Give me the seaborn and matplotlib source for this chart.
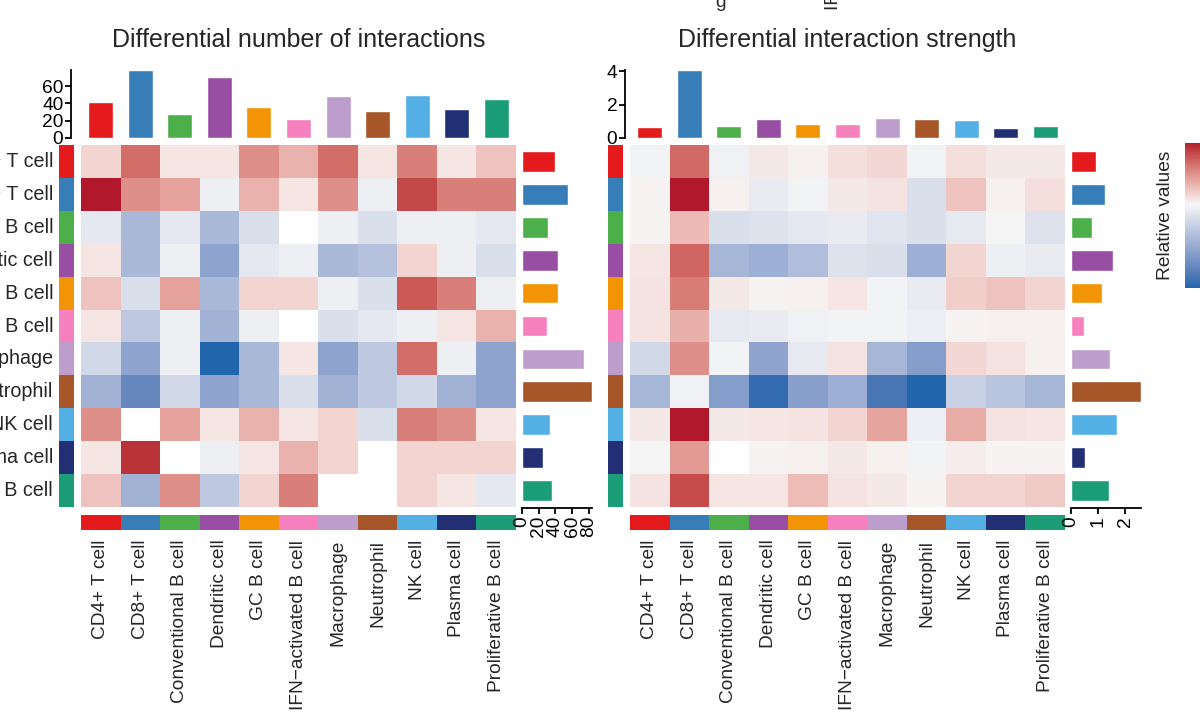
import numpy as np
import pandas as pd
import matplotlib
matplotlib.use("Agg")
import matplotlib.pyplot as plt
import matplotlib.colors as mcolors
import seaborn as sns

sns.set_style("white")
plt.rcParams["font.family"] = ["Liberation Sans", "DejaVu Sans"]

# ---------------------------------------------------------------- data
cell_types = ["CD4+ T cell", "CD8+ T cell", "Conventional B cell", "Dendritic cell",
              "GC B cell", "IFN\u2212activated B cell", "Macrophage", "Neutrophil",
              "NK cell", "Plasma cell", "Proliferative B cell"]
group_colors = ["#E41A1C", "#377EB8", "#4DAF4A", "#984EA3", "#F29403", "#F781BF",
                "#BC9DCC", "#A65628", "#54B0E4", "#222F75", "#1B9E77"]

# differential number of interactions (rows = senders, cols = receivers)
count_diff = [
    [2, 8, 1, 1, 6, 4, 8, 1, 7, 1, 3],
    [12, 6, 5, -1, 4, 1, 6, -1, 10, 7, 7],
    [-2, -8, -2, -8, -3, 0, -1, -3, -1, -1, -2],
    [1, -8, -1, -11, -2, -1, -8, -7, 2, -1, -3],
    [3, -3, 5, -8, 2, 2, -1, -3, 9, 7, -1],
    [1, -6, -1, -9, -1, 0, -3, -2, -1, 1, 4],
    [-4, -11, -1, -20, -8, 1, -11, -6, 8, -1, -11],
    [-9, -15, -4, -11, -8, -3, -9, -6, -4, -9, -11],
    [6, 0, 5, 1, 4, 1, 2, -3, 7, 6, 1],
    [1, 11, 0, -1, 1, 4, 2, 0, 2, 2, 2],
    [3, -9, 6, -6, 2, 7, 0, 0, 2, 1, -2],
]
count_incoming = [41.6, 78.6, 28, 71, 36, 22, 48, 31, 50, 34, 45]
count_outgoing = [39, 55, 31, 43, 43, 30, 74, 84, 33, 25, 36]
count_ticks = [0, 20, 40, 60]
count_out_ticks = [0, 20, 40, 60, 80]

# differential interaction strength
weight_diff = [
    [-0.02, 0.41, -0.03, 0.04, 0.02, 0.07, 0.09, -0.02, 0.07, 0.04, 0.04],
    [0.01, 0.60, 0.02, -0.06, -0.02, 0.04, 0.06, -0.12, 0.15, 0.02, 0.07],
    [0.01, 0.18, -0.12, -0.11, -0.08, -0.06, -0.10, -0.12, -0.07, -0.01, -0.11],
    [0.05, 0.42, -0.34, -0.38, -0.30, -0.11, -0.12, -0.38, 0.10, -0.04, -0.06],
    [0.06, 0.36, 0.04, 0.01, 0.02, 0.05, -0.02, -0.06, 0.12, 0.15, 0.10],
    [0.06, 0.21, -0.07, -0.06, -0.03, -0.02, -0.02, -0.05, 0.01, 0.02, 0.02],
    [-0.16, 0.30, -0.02, -0.44, -0.07, 0.06, -0.34, -0.48, 0.09, 0.06, 0.02],
    [-0.34, -0.03, -0.48, -0.76, -0.46, -0.38, -0.70, -0.80, -0.20, -0.26, -0.34],
    [0.04, 0.60, 0.04, 0.05, 0.06, 0.10, 0.24, -0.05, 0.22, 0.06, 0.05],
    [-0.01, 0.27, 0.0, 0.01, 0.02, 0.04, 0.02, -0.02, 0.03, 0.01, 0.01],
    [0.06, 0.49, 0.05, 0.05, 0.17, 0.06, 0.04, 0.01, 0.10, 0.10, 0.13],
]
weight_incoming = [0.65, 4.08, 0.71, 1.15, 0.83, 0.83, 1.21, 1.17, 1.11, 0.63, 0.75]
weight_outgoing = [0.91, 1.24, 0.76, 1.57, 1.14, 0.49, 1.45, 2.59, 1.71, 0.52, 1.42]
weight_ticks = [0, 2, 4]
weight_out_ticks = [0, 1, 2]

titles = ["Differential number of interactions", "Differential interaction strength"]
legend_title = "Relative values"

# ---------------------------------------------------------------- colour ramp (CIELAB interpolation)
_M = np.array([[0.4124, 0.3576, 0.1805], [0.2126, 0.7152, 0.0722], [0.0193, 0.1192, 0.9505]])
_WHITE = np.array([0.95047, 1.0, 1.08883])


def to_lab(col):
    c = np.array(mcolors.to_rgb(col))
    lin = np.where(c <= 0.04045, c / 12.92, ((c + 0.055) / 1.055) ** 2.4)
    t = (_M @ lin) / _WHITE
    f = np.where(t > (6 / 29) ** 3, np.cbrt(t), t / (3 * (6 / 29) ** 2) + 4 / 29)
    return np.array([116 * f[1] - 16, 500 * (f[0] - f[1]), 200 * (f[1] - f[2])])


def from_lab(lab):
    fy = (lab[0] + 16) / 116
    f = np.array([fy + lab[1] / 500, fy, fy - lab[2] / 200])
    t = np.where(f > 6 / 29, f ** 3, 3 * (6 / 29) ** 2 * (f - 4 / 29))
    lin = np.clip(np.linalg.solve(_M, t * _WHITE), 0, 1)
    c = np.where(lin <= 0.0031308, 12.92 * lin, 1.055 * lin ** (1 / 2.4) - 0.055)
    return np.clip(c, 0, 1)


def lab_ramp(c1, c2, n=128):
    a, b = to_lab(c1), to_lab(c2)
    return [from_lab(a + (b - a) * s) for s in np.linspace(0, 1, n)]


diff_cmap = mcolors.LinearSegmentedColormap.from_list(
    "diff", lab_ramp("#2166ac", "#f7f7f7") + lab_ramp("#f7f7f7", "#b2182b")[1:])

# ---------------------------------------------------------------- layout helpers
W, H = 1200, 715
fig = plt.figure(figsize=(W / 100, H / 100), dpi=100)
FS = 13.8
ROW_FS = 14.2


def px_axes(x0, y0, x1, y1):
    return fig.add_axes([x0 / W, 1 - y1 / H, (x1 - x0) / W, (y1 - y0) / H])


strip_cmap = mcolors.ListedColormap(group_colors)
idx = np.arange(len(cell_types))


def draw_panel(x0, mat, incoming, outgoing, in_ticks, out_ticks, title,
               show_row_labels, top_axis_gap):
    x1 = x0 + 435
    df = pd.DataFrame(mat, index=cell_types, columns=cell_types)
    vmin, vmax = df.values.min(), df.values.max()
    norm = mcolors.TwoSlopeNorm(vmin=vmin, vcenter=0, vmax=vmax)

    # main heatmap; zero entries are left blank
    ax = px_axes(x0, 145, x1, 507)
    ax.set_facecolor("white")
    sns.heatmap(df, mask=(df == 0), cmap=diff_cmap, norm=norm, cbar=False,
                xticklabels=False, yticklabels=False, ax=ax)

    # row colour strip with sender labels
    axr = px_axes(x0 - 22, 145, x0 - 7, 507)
    sns.heatmap(idx[:, None], cmap=strip_cmap, cbar=False, xticklabels=False,
                yticklabels=cell_types if show_row_labels else False, ax=axr)
    axr.tick_params(axis="y", length=0, pad=4.2, labelsize=ROW_FS, rotation=0)

    # column colour strip with receiver labels
    axc = px_axes(x0, 515, x1, 530)
    sns.heatmap(idx[None, :], cmap=strip_cmap, cbar=False, yticklabels=False,
                xticklabels=cell_types, ax=axc)
    axc.tick_params(axis="x", length=0, pad=7, labelsize=FS, rotation=90)

    # incoming totals on top
    axt = px_axes(x0, 70, x1, 138)
    sns.barplot(x=cell_types, y=incoming, hue=cell_types, palette=group_colors,
                legend=False, width=0.63, saturation=1, ax=axt)
    axt.set_xlim(-0.5, len(cell_types) - 0.5)
    axt.set_ylim(0, max(incoming))
    axt.set_yticks(in_ticks)
    axt.set_xticks([])
    axt.set_xlabel("")
    axt.set_ylabel("")
    for s in ["top", "right", "bottom"]:
        axt.spines[s].set_visible(False)
    axt.spines["left"].set_position(("outward", top_axis_gap))
    axt.spines["left"].set_linewidth(1.3)
    axt.spines["left"].set_color("black")
    axt.tick_params(axis="y", direction="out", length=4, width=1.3, pad=1.5,
                    labelsize=FS, left=True, colors="black")

    # outgoing totals on the right
    axb = px_axes(x1 + 6, 145, x1 + 76, 507)
    sns.barplot(y=cell_types, x=outgoing, hue=cell_types, palette=group_colors,
                legend=False, width=0.63, saturation=1, orient="h", ax=axb)
    axb.set_ylim(len(cell_types) - 0.5, -0.5)
    axb.set_xlim(0, max(outgoing))
    axb.set_xticks(out_ticks)
    axb.set_yticks([])
    axb.set_xlabel("")
    axb.set_ylabel("")
    for s in ["top", "right", "left"]:
        axb.spines[s].set_visible(False)
    axb.spines["bottom"].set_position(("outward", 1))
    axb.spines["bottom"].set_linewidth(1.3)
    axb.spines["bottom"].set_color("black")
    axb.tick_params(axis="x", direction="out", length=4, width=1.3, pad=1.5,
                    labelsize=FS, labelrotation=90, bottom=True, colors="black")

    fig.text((x0 + x1) / 2 / W, 1 - 40 / H, title, ha="center", va="center",
             fontsize=18)
    return vmin, vmax, norm


draw_panel(81, count_diff, count_incoming, count_outgoing, count_ticks,
           count_out_ticks, titles[0], True, 7.2)
wmin, wmax, wnorm = draw_panel(630, weight_diff, weight_incoming, weight_outgoing,
                               weight_ticks, weight_out_ticks, titles[1], False, 3.6)

# legend gradient for the strength heatmap
axl = px_axes(1185, 143, 1204, 288)
axl.imshow(np.linspace(wmax, wmin, 256)[:, None], cmap=diff_cmap, norm=wnorm,
           aspect="auto")
axl.set_axis_off()
fig.text(1166 / W, 1 - 215 / H, legend_title, rotation=90, ha="center",
         va="center", fontsize=FS)

# tails of labels from the panel above, running off the top edge
fig.text(721 / W, 1 - 7 / H, "g", ha="center", va="baseline", fontsize=FS)
fig.text(834 / W, 1 - 10 / H, "IFN\u2212activated B cell", rotation=90,
         ha="center", va="bottom", fontsize=FS)

fig.savefig("out.png", dpi=100)
